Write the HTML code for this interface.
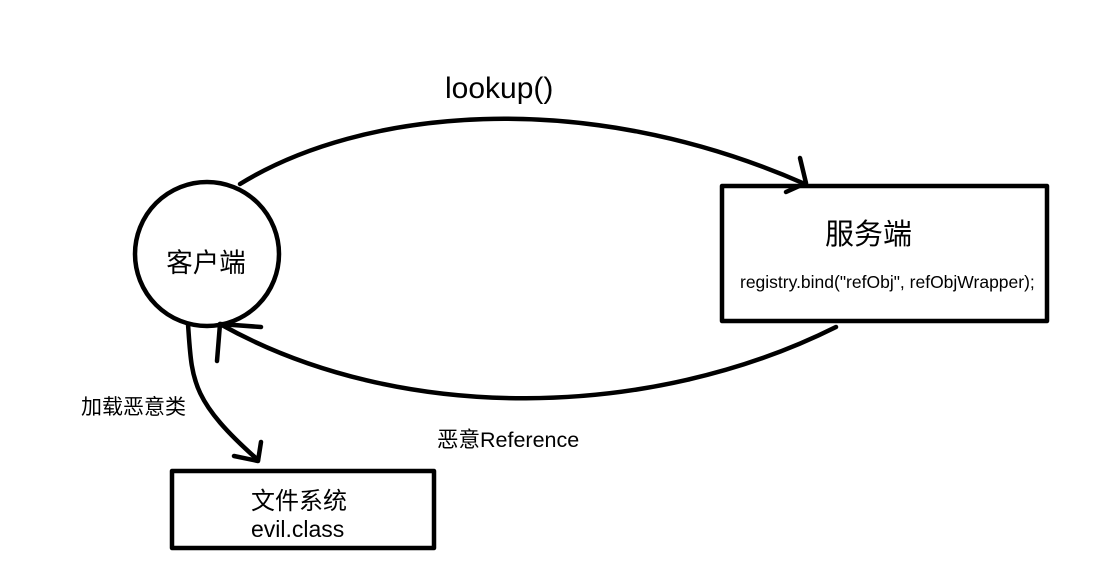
<!DOCTYPE html>
<html><head><meta charset="utf-8"><style>
html,body{margin:0;padding:0;background:#fff;width:1116px;height:564px;overflow:hidden}
text{font-family:"Liberation Sans","Noto Sans CJK SC",sans-serif;fill:#000}
</style></head><body>
<svg width="1116" height="564" viewBox="0 0 1116 564" xmlns="http://www.w3.org/2000/svg">
<g fill="none" stroke="#000" stroke-width="4.5" stroke-linecap="round" stroke-linejoin="round">
<circle cx="207" cy="254" r="72"/>
<rect x="722" y="186" width="325" height="135"/>
<rect x="172" y="471" width="262" height="77"/>
<path d="M240 184 C360 110 580 85 805 184"/>
<path d="M800 158 L806 183 L786 192"/>
<path d="M836 327 C650 420 400 425 220 324"/>
<path d="M261 327 L220 324 L217 361"/>
<path d="M188 324 C192 380 190 400 258 460"/>
<path d="M234 456 L258 461 L261 442"/>
</g>
<text x="445" y="98" font-size="30">lookup()</text>
<text x="206" y="272" font-size="26.5" text-anchor="middle">客户端</text>
<text x="825" y="244" font-size="29">服务端</text>
<text x="740" y="288" font-size="17.5">registry.bind("refObj", refObjWrapper);</text>
<text x="81" y="414" font-size="21">加载恶意类</text>
<text x="437" y="447" font-size="21.5">恶意Reference</text>
<text x="251" y="509" font-size="24">文件系统</text>
<text x="251" y="537" font-size="23">evil.class</text>
</svg>
</body></html>
